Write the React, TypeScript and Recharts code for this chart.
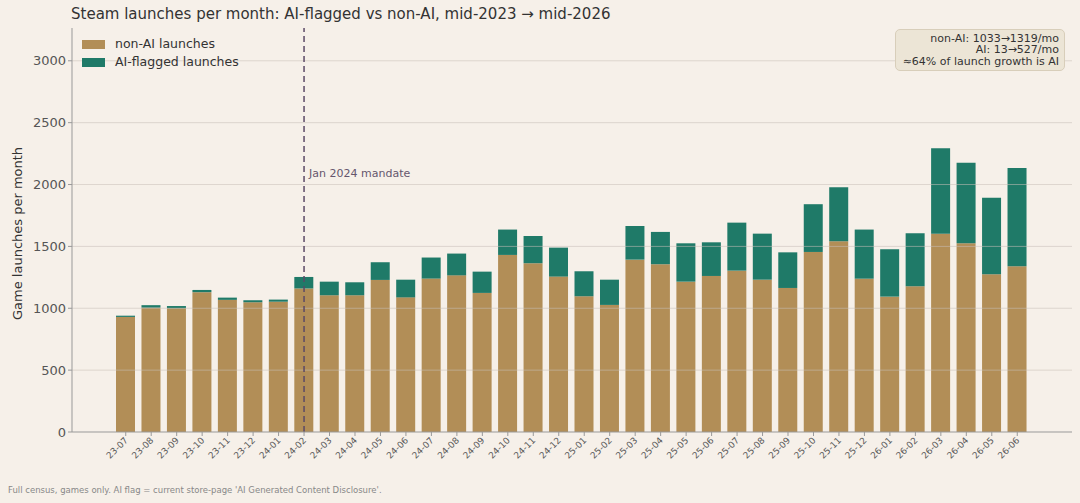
import React from 'react';
import {
  BarChart,
  Bar,
  XAxis,
  YAxis,
  ReferenceLine,
} from 'recharts';

// month labels, yy-mm
const months = [
  '23-07', '23-08', '23-09', '23-10', '23-11', '23-12',
  '24-01', '24-02', '24-03', '24-04', '24-05', '24-06',
  '24-07', '24-08', '24-09', '24-10', '24-11', '24-12',
  '25-01', '25-02', '25-03', '25-04', '25-05', '25-06',
  '25-07', '25-08', '25-09', '25-10', '25-11', '25-12',
  '26-01', '26-02', '26-03', '26-04', '26-05', '26-06',
];

const nonAiLaunches = [
  930, 1005, 1000, 1130, 1068, 1048,
  1053, 1160, 1105, 1105, 1229, 1088,
  1240, 1266, 1124, 1431, 1364, 1256,
  1097, 1027, 1393, 1356, 1215, 1261,
  1304, 1231, 1164, 1455, 1541, 1239,
  1094, 1178, 1603, 1525, 1275, 1339,
];

const aiLaunches = [
  10, 20, 18, 18, 18, 17,
  17, 93, 110, 105, 143, 143,
  170, 176, 172, 205, 220, 234,
  202, 204, 272, 261, 310, 272,
  388, 372, 288, 386, 437, 397,
  383, 428, 690, 652, 619, 795,
];

const yTicks = [0, 500, 1000, 1500, 2000, 2500, 3000];

const data = months.map((month, i) => ({
  month,
  nonAi: nonAiLaunches[i],
  ai: aiLaunches[i],
}));

const BG = '#f6f0e9';
const BROWN = '#b28e57';
const TEAL = '#1f7a68';
const FONT = '"DejaVu Sans", Verdana, sans-serif';

const XTick = ({ x, y, payload }: any) => (
  <g transform={`translate(${x},${y})`}>
    <text
      x={0}
      y={0}
      dy={4}
      textAnchor="end"
      transform="rotate(-45)"
      fontSize={9}
      fill="#5a5a5a"
      fontFamily={FONT}
    >
      {payload.value}
    </text>
  </g>
);

const MandateLabel = ({ viewBox }: any) => (
  <text
    x={viewBox.x + 5}
    y={viewBox.y + 149}
    fontSize={11}
    fill="#65566d"
    fontFamily={FONT}
  >
    Jan 2024 mandate
  </text>
);

export default function App() {
  return (
    <div
      style={{
        position: 'fixed',
        left: 0,
        top: 0,
        width: 1080,
        height: 503,
        background: BG,
        fontFamily: FONT,
      }}
    >
      <div
        style={{
          position: 'absolute',
          left: 71,
          top: 5,
          fontSize: 15,
          color: '#333',
          whiteSpace: 'nowrap',
        }}
      >
        Steam launches per month: AI-flagged vs non-AI, mid-2023 → mid-2026
      </div>

      <BarChart
        width={1080}
        height={503}
        data={data}
        margin={{ top: 28, right: 8, bottom: 0, left: 0 }}
        barSize={19}
      >
        <XAxis
          dataKey="month"
          height={71}
          interval={0}
          tick={<XTick />}
          tickSize={4}
          stroke="#999"
          padding={{ left: 41, right: 42 }}
        />
        <YAxis
          width={72}
          domain={[0, 3265]}
          ticks={yTicks}
          tickSize={4}
          stroke="#999"
          tick={{ fill: '#555', fontSize: 13, fontFamily: FONT }}
          label={{
            value: 'Game launches per month',
            angle: -90,
            position: 'insideLeft',
            dx: 12,
            dy: 90,
            style: { fill: '#333', fontSize: 13, fontFamily: FONT },
          }}
        />
        <Bar dataKey="nonAi" stackId="a" fill={BROWN} isAnimationActive={false} />
        <Bar dataKey="ai" stackId="a" fill={TEAL} isAnimationActive={false} />
        {yTicks.slice(1).map((t) => (
          <ReferenceLine key={t} y={t} stroke="#c8c0b8" strokeOpacity={0.55} strokeWidth={1} />
        ))}
        <ReferenceLine
          x="24-02"
          stroke="#5b4a66"
          strokeWidth={1.5}
          strokeDasharray="6 4"
          label={<MandateLabel />}
        />
      </BarChart>

      <div
        style={{
          position: 'absolute',
          left: 82,
          top: 35,
          fontSize: 12.5,
          color: '#333',
          lineHeight: '18px',
        }}
      >
        <div style={{ display: 'flex', alignItems: 'center' }}>
          <span style={{ width: 23, height: 9, background: BROWN, marginRight: 10 }} />
          non-AI launches
        </div>
        <div style={{ display: 'flex', alignItems: 'center' }}>
          <span style={{ width: 23, height: 9, background: TEAL, marginRight: 10 }} />
          AI-flagged launches
        </div>
      </div>

      <div
        style={{
          position: 'absolute',
          left: 895,
          top: 29,
          width: 160,
          padding: '3px 5px 3px 3px',
          background: '#ece5d6',
          border: '1px solid #d8ceba',
          borderRadius: 5,
          textAlign: 'right',
          fontSize: 11,
          lineHeight: '11.3px',
          color: '#333',
        }}
      >
        <div>non-AI: 1033→1319/mo</div>
        <div>AI: 13→527/mo</div>
        <div>≈64% of launch growth is AI</div>
      </div>

      <div
        style={{
          position: 'absolute',
          left: 8,
          top: 485,
          fontSize: 8.5,
          color: '#888',
          whiteSpace: 'nowrap',
        }}
      >
        Full census, games only. AI flag = current store-page 'AI Generated Content Disclosure'.
      </div>
    </div>
  );
}
